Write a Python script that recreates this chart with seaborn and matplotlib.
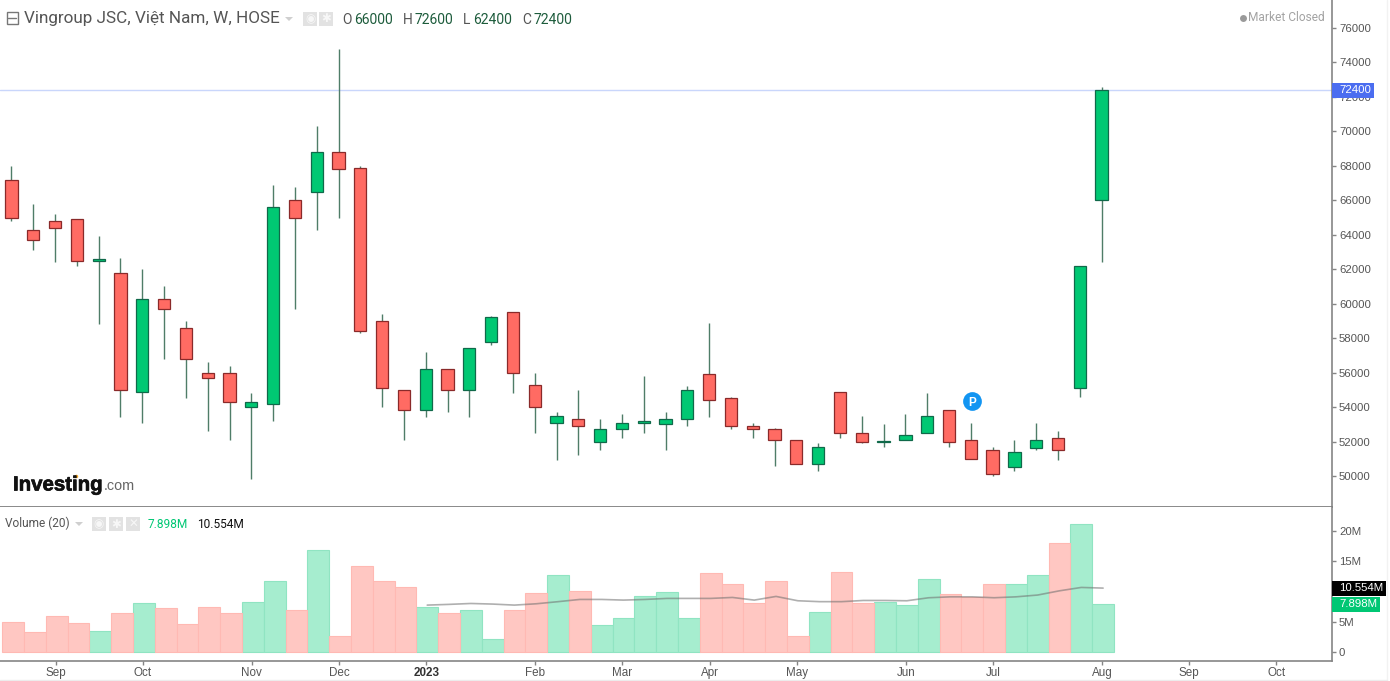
import numpy as np
import pandas as pd
import matplotlib
matplotlib.use("Agg")
import matplotlib.pyplot as plt
from matplotlib.patches import Rectangle, Polygon
import matplotlib.patheffects as pe
import seaborn as sns

# ---- data ----
opens = [67200,64300,64800,64900,62500,61800,54900,60300,58600,56000,56000,54000,54200,66000,66500,68800,67900,59000,55000,53800,
         56200,55000,57800,59500,55300,53100,53300,52000,52700,53100,53000,53300,55900,54500,52900,52700,52100,50700,54900,52500,
         52000,52100,52500,53800,52100,51500,50500,51600,52200,55100,66000]
highs = [68000,65800,65200,64900,63900,62650,62000,61000,59000,56600,56400,54800,66900,66800,70300,74800,68000,59400,55000,57200,
         56200,57400,59300,59500,56000,53700,55000,53300,53600,55800,53700,55200,58900,54600,53100,52800,52100,51900,54900,53500,
         53000,53600,54800,53800,53100,51700,52100,53100,52600,62200,72600]
lows = [64800,63100,62400,62200,58800,53400,53100,56800,54500,52600,52100,49800,53200,59700,64300,65000,58300,54000,52100,53400,
        53700,53400,57600,54800,52500,50900,51200,51500,52200,52500,51500,52900,53400,52700,52200,50600,50700,50300,52200,51900,
        51700,52100,52500,51700,51000,50000,50300,51500,50900,54600,62400]
closes = [65000,63700,64400,62500,62600,55000,60300,59700,56800,55700,54300,54300,65600,65000,68800,67800,58400,55100,53800,56200,
          55000,57400,59200,56000,54000,53500,52900,52700,53100,53200,53300,55000,54400,52900,52700,52100,50700,51700,52500,52000,
          52050,52350,53500,52000,51000,50100,51400,52100,51500,62200,72400]
volumes = [4.97,3.3,5.97,4.8,3.5,6.35,8.0,7.2,4.64,7.35,6.35,8.2,11.65,7.0,16.8,2.65,14.15,11.65,10.8,7.45,
           6.35,7.0,2.15,6.85,9.8,12.8,10.15,4.5,5.65,9.3,9.85,5.65,13.0,11.15,8.1,11.8,2.65,6.6,13.3,8.1,
           8.3,7.8,12.0,9.65,9.1,11.15,11.3,12.65,18.0,21.15,7.9]
ma_volume = [7.73,7.85,8.0,7.9,7.73,7.95,8.3,8.67,8.67,8.56,8.67,8.84,8.84,8.84,9.0,8.56,9.17,8.45,8.3,8.3,
             8.5,8.5,8.45,8.95,9.1,9.1,8.95,9.1,9.4,10.1,10.66,10.55]
ma_start = 19
tick_index = [2,6,11,15,19,24,28,32,36,41,45,50,54,58]
tick_names = ["Sep","Oct","Nov","Dec","2023","Feb","Mar","Apr","May","Jun","Jul","Aug","Sep","Oct"]
price_ticks = list(range(50000, 78000, 2000))
volume_ticks = [0,5,10,15,20]
volume_tick_names = ["0","5M","","15M","20M"]
last_close = 72400
last_volume = 7.898
last_ma = 10.554

# ---- style ----
RED, RED_E = "#ff6b63", "#8a2a2a"
GRN, GRN_E = "#00c873", "#10694a"
WICK = "#4f7d68"
VRED, VRED_E = "#ffc7c2", "#ffb9b3"
VGRN, VGRN_E = "#a6edcf", "#90e4c2"
AX = "#858585"
TXT = "#555555"
UI = "Roboto"
NUM = "Liberation Sans"

sns.set_theme(style="white")
plt.rcParams["font.family"] = [NUM, "DejaVu Sans"]
W, H = 1390, 681
fig = plt.figure(figsize=(W/100, H/100), dpi=100, facecolor="white")

def fx(x): return x/W
def fy(y): return 1 - y/H

ax = fig.add_axes([0, fy(507), fx(1332), 507/H])
axv = fig.add_axes([0, fy(661), fx(1332), (661-507)/H])
for a in (ax, axv):
    a.set_facecolor("white")

df = pd.DataFrame(dict(i=np.arange(len(opens)), o=opens, h=highs, l=lows, c=closes, v=volumes))
df["up"] = df.c >= df.o
df["top"] = df[["o","c"]].max(axis=1)
df["bot"] = df[["o","c"]].min(axis=1)

XLIM = (-0.527, 60.57)
SHIFT = 0.07

# price line and wicks
ax.axhline(last_close, color="#c9d6fb", lw=1.0, zorder=0.4)
ax.vlines(df.i, df.l, df.h, color=WICK, lw=1.0, zorder=0.5)
# bodies
for up, fc, ec in ((True, GRN, GRN_E), (False, RED, RED_E)):
    s = df[df.up == up]
    sns.barplot(x=s.i.to_numpy(), y=(s.top - s.bot).to_numpy(), bottom=s.bot.to_numpy(),
                native_scale=True, width=0.565, color=fc, saturation=1, edgecolor=ec,
                linewidth=0.9, errorbar=None, ax=ax)

# volume
for up, fc, ec in ((True, VGRN, VGRN_E), (False, VRED, VRED_E)):
    s = df[df.up == up]
    sns.barplot(x=(s.i + SHIFT).to_numpy(), y=s.v.to_numpy(), native_scale=True, width=1.0,
                color=fc, saturation=1, edgecolor=ec, linewidth=0.8, errorbar=None, ax=axv)
ma_x = np.arange(ma_start, ma_start + len(ma_volume)) + SHIFT
sns.lineplot(x=ma_x, y=ma_volume, color="#6e6e6e", alpha=0.55, lw=1.2, ax=axv, zorder=5, errorbar=None)

# axes
ax.set_xlim(*XLIM); axv.set_xlim(*XLIM)
ax.set_ylim(48199, 77625)
axv.set_ylim(-1.54, 24.0)
for a in (ax, axv):
    a.set_xlabel(""); a.set_ylabel("")
    for k in ("top","left","bottom"):
        a.spines[k].set_visible(False)
    a.spines["right"].set_color(AX); a.spines["right"].set_linewidth(1.2)
    a.yaxis.tick_right()
    a.tick_params(axis="y", right=True, length=3, width=1, color=AX, labelsize=8.2, labelcolor=TXT, pad=2)
    for l in a.get_yticklabels():
        l.set_fontfamily(NUM)
ax.set_xticks([])
ax.set_yticks(price_ticks)
ax.set_yticklabels([str(p) for p in price_ticks])
ax.spines["bottom"].set_visible(True); ax.spines["bottom"].set_color("#6a6a6a"); ax.spines["bottom"].set_linewidth(1.1)
axv.spines["bottom"].set_visible(True); axv.spines["bottom"].set_color(AX); axv.spines["bottom"].set_linewidth(1.2)
axv.set_yticks(volume_ticks); axv.set_yticklabels(volume_tick_names)
axv.set_xticks(np.array(tick_index) + 0.02); axv.set_xticklabels(tick_names)
axv.tick_params(axis="x", bottom=True, length=3, width=1, color=AX, labelsize=8.4, labelcolor=TXT, pad=1.5)
for l in axv.get_xticklabels():
    if l.get_text() == "2023":
        l.set_fontweight("bold"); l.set_color("#333333")

# value tags on the axis
def tag(a, value, label, color, right, tcolor="white"):
    yc = a.transData.transform((0, value))[1]
    y0 = (yc - 7.5)/H
    fig.add_artist(Rectangle((fx(1332), y0), fx(right-1332), 15/H, transform=fig.transFigure,
                             facecolor=color, edgecolor="none", zorder=10))
    fig.text(fx(1339), yc/H - 0.0005, label, color=tcolor, fontsize=8.2, family=NUM, ha="left", va="center", zorder=11)

tag(ax, last_close, str(last_close), "#4b6df0", 1374)
tag(axv, last_volume, f"{last_volume:.3f}M", "#00c774", 1380)
tag(axv, last_ma, f"{last_ma:.3f}M", "#000000", 1386)

# P badge
pb = (44.06, 54350)
ax.plot(*pb, marker="o", ms=13.5, color="#1295f2", mec="none", zorder=6)
ax.text(*pb, "P", color="white", fontsize=8.5, fontweight="bold", family=NUM, ha="center", va="center_baseline", zorder=7)

# header
def ftext(x, y, s, **k):
    k.setdefault("family", UI); k.setdefault("va", "center"); k.setdefault("ha", "left")
    return fig.text(fx(x), fy(y), s, **k)

def box(x0, y0, x1, y1, **k):
    fig.add_artist(Rectangle((fx(x0), fy(y1)), fx(x1-x0), (y1-y0)/H, transform=fig.transFigure, **k))

def tri(x, y, w=8, h=4, c="#cfcfcf"):
    fig.add_artist(Polygon([(fx(x), fy(y)), (fx(x+w), fy(y)), (fx(x+w/2), fy(y+h))], transform=fig.transFigure,
                           facecolor=c, edgecolor="none"))

def icon(x, y, kind):
    box(x, y, x+14, y+14, facecolor="#e2e2e2", edgecolor="none")
    g = "#f7f7f7"
    if kind == "x":
        ftext(x+7, y+7, "✕", family="DejaVu Sans", color=g, fontsize=8.5, ha="center", fontweight="bold")
    elif kind == "gear":
        ftext(x+7, y+7, "✱", family="DejaVu Sans", color=g, fontsize=8.5, ha="center")
    else:
        ftext(x+7, y+7, "◉", family="DejaVu Sans", color=g, fontsize=8.5, ha="center")

box(6.5, 12.5, 17.5, 23.5, facecolor="white", edgecolor="#777777", lw=1)
fig.add_artist(plt.Line2D([fx(8), fx(16)], [fy(18), fy(18)], color="#777777", lw=1, transform=fig.transFigure))
ftext(24, 18.5, "Vingroup JSC, Việt Nam, W, HOSE", color="#555555", fontsize=12.3)
tri(285, 17)
icon(303, 12, "eye"); icon(319, 12, "gear")
OH = "#1d5c3c"
for x, s, col, fs in ((342,"O","#555555",10),(354,"66000",OH,10),(403,"H","#555555",10),(415,"72600",OH,10),
                      (463,"L","#555555",10),(473,"62400",OH,10),(522,"C","#555555",10),(533,"72400",OH,10)):
    ftext(x, 19.5, s, color=col, fontsize=fs)
ftext(1325, 17.5, "Market Closed", color="#a3a3a3", fontsize=8.6, ha="right")
fig.add_artist(plt.Line2D([fx(1242.5)], [fy(17.5)], marker="o", ms=5, color="#9a9a9a", mec="none", transform=fig.transFigure))

# volume legend
ftext(5, 523.5, "Volume (20)", color="#555555", fontsize=8.6)
tri(75, 522)
icon(92, 517, "eye"); icon(109, 517, "gear"); icon(126, 517, "x")
ftext(148, 525, "7.898M", color="#00c774", fontsize=8.6)
ftext(197, 525, "10.554M", color="#111111", fontsize=8.6)

# logo
t = fig.text(fx(13), fy(490.5), "Investing", family=NUM, fontweight="bold", fontsize=14.7, color="#111111", va="baseline", ha="left")
t.set_path_effects([pe.withStroke(linewidth=0.5, foreground="#111111")])
fig.text(fx(103.5), fy(490.5), ".com", family=NUM, fontsize=10.4, color="#666666", va="baseline", ha="left")
fig.add_artist(plt.Line2D([fx(75.5)], [fy(475.5)], marker="o", ms=2.5, color="#f5a623", mec="none", transform=fig.transFigure))

# chart frame edge
fig.add_artist(plt.Line2D([fx(1386.5), fx(1386.5)], [0, 1], color="#f2f2f2", lw=1, transform=fig.transFigure, zorder=0))
fig.add_artist(plt.Line2D([0, fx(1387)], [fy(680), fy(680)], color="#ececec", lw=1, transform=fig.transFigure, zorder=0))

fig.savefig("out.png", dpi=100, facecolor="white")
